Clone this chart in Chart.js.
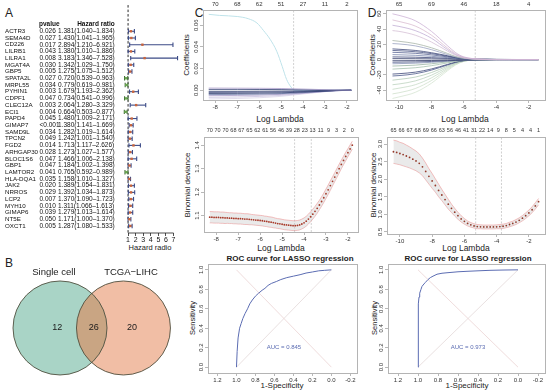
<!DOCTYPE html>
<html>
<head>
<meta charset="utf-8">
<title>LASSO figure</title>
<script src="https://cdn.jsdelivr.net/npm/chart.js@4.4.1/dist/chart.umd.min.js"></script>
<style>
  body { margin:0; width:550px; height:392px; position:relative; overflow:hidden; background:#fff;
         font-family:"Liberation Sans", Arial, sans-serif; color:#222; }
  canvas { position:absolute; }
  .t { position:absolute; white-space:nowrap; line-height:1; transform:translate(-50%,-50%); }
  .r { transform:translate(-50%,-50%) rotate(-90deg); }
  .lt { position:absolute; font-size:12px; line-height:1; transform:translate(-50%,-50%); }
</style>
</head>
<body>
<div class="lt" style="left:9px;top:13px">A</div>
<div class="lt" style="left:9px;top:263px">B</div>
<div class="lt" style="left:199px;top:13px">C</div>
<div class="lt" style="left:372px;top:13px">D</div>

<div class="t" style="left:150px;top:248px;font-size:7.5px">Hazard radio</div>
<div class="t r" style="left:187px;top:55px;font-size:8px">Coefficients</div>
<div class="t r" style="left:373px;top:55px;font-size:8px">Coefficients</div>
<div class="t" style="left:280px;top:119px;font-size:8.5px">Log Lambda</div>
<div class="t" style="left:465px;top:119px;font-size:8.5px">Log Lambda</div>
<div class="t r" style="left:188px;top:185px;font-size:8px">Binomial deviance</div>
<div class="t r" style="left:374px;top:185px;font-size:8px">Binomial deviance</div>
<div class="t" style="left:281px;top:248px;font-size:8.5px">Log Lambda</div>
<div class="t" style="left:466px;top:248px;font-size:8.5px">Log Lambda</div>
<div class="t" style="left:290px;top:259px;font-size:8px;font-weight:bold">ROC curve for LASSO regression</div>
<div class="t" style="left:468px;top:259px;font-size:8px;font-weight:bold">ROC curve for LASSO regression</div>
<div class="t r" style="left:193px;top:318px;font-size:7.5px">Sensitivity</div>
<div class="t r" style="left:375px;top:318px;font-size:7.5px">Sensitivity</div>
<div class="t" style="left:282px;top:386px;font-size:8px">1-Specificity</div>
<div class="t" style="left:467px;top:386px;font-size:8px">1-Specificity</div>

<script>
// ---- panel A: univariate cox ----
const genes = ['ACTR3','SEMA4D','CD226','LILRB1','LILRA1','MGAT4A','GBP5','SPATA2L','MRPL55','PYHIN1',
  'CDPF1','CLEC12A','ECI1','PAPD4','GIMAP7','SAMD9L','TPCN2','FGD2','ARHGAP30','BLOC1S6',
  'GBP1','LAMTOR2','HLA-DQA1','JAK2','NRROS','LCP2','MYH10','GIMAP6','NT5E','OXCT1'];
const pvals = ['0.026','0.027','0.017','0.043','0.008','0.030','0.005','0.027','0.034','0.003',
  '0.047','0.003','0.004','0.045','<0.001','0.034','0.049','0.014','0.028','0.047',
  '0.047','0.041','0.035','0.020','0.029','0.007','0.010','0.039','0.050','0.005'];
const hr = [1.381,1.430,2.894,1.380,3.183,1.342,1.275,0.720,0.779,1.679,
  0.734,2.064,0.664,1.480,1.380,1.282,1.242,1.713,1.273,1.466,
  1.184,0.765,1.158,1.389,1.392,1.370,1.311,1.279,1.171,1.287];
const hrLow = [1.040,1.041,1.210,1.010,1.346,1.029,1.075,0.539,0.619,1.193,
  0.541,1.280,0.503,1.009,1.141,1.019,1.001,1.117,1.027,1.006,
  1.002,0.592,1.010,1.054,1.034,1.090,1.066,1.013,1.000,1.080];
const hrHigh = [1.834,1.965,6.921,1.886,7.528,1.750,1.512,0.963,0.981,2.362,
  0.996,3.329,0.877,2.171,1.669,1.614,1.540,2.626,1.577,2.138,
  1.398,0.989,1.327,1.831,1.873,1.723,1.613,1.614,1.370,1.533];
const hrTicks = [1, 2, 3, 4, 5, 6, 7];

// ---- panel B: venn ----
const vennSets = ['Single cell', 'TCGA\u2212LIHC'];
const vennCounts = [12, 26, 20];

// ---- panel C ----
const coefTickC = [-8, -7, -6, -5, -4, -3, -2];
const coefTopC = ['70', '68', '62', '51', '27', '11', '2'];
const bigLamC = [-8.3, -7.8, -7, -6.5, -6.1, -5.8, -5.5, -5.2, -4.95, -4.75, -4.55, -4.4, -1.8];
const bigCoefC = [0.070, 0.069, 0.068, 0.066, 0.062, 0.055, 0.047, 0.036, 0.022, 0.010, 0.003, 0, 0];
const pathLamC = [-8.3, -7, -6, -5, -4, -3, -2.5, -1.8];
const pathsC = [
  [0.0020, 0.0019, 0.0018, 0.0016, 0.0011, 0.0005, 0.0002, 0],
  [0.0008, 0.0008, 0.0007, 0.0006, 0.0004, 0.0002, 0.0001, 0],
  [-0.0010, -0.0010, -0.0009, -0.0008, -0.0006, -0.0003, -0.0001, 0],
  [-0.0020, -0.0019, -0.0018, -0.0016, -0.0012, -0.0006, -0.0002, 0],
  [-0.0030, -0.0029, -0.0027, -0.0024, -0.0017, -0.0008, -0.0003, 0],
  [-0.0040, -0.0038, -0.0036, -0.0031, -0.0022, -0.0010, -0.0004, 0],
  [-0.0050, -0.0048, -0.0045, -0.0038, -0.0026, -0.0011, -0.0004, 0],
  [-0.0065, -0.0062, -0.0057, -0.0047, -0.0030, -0.0012, -0.0004, 0],
  [-0.0080, -0.0076, -0.0069, -0.0056, -0.0034, -0.0013, -0.0004, 0]
];
const pathColC = ['#a99cc9', '#2f3b6e', '#2f3b6e', '#3a467a', '#2f3b6e', '#6b7aa6', '#a99cc9', '#c8c0df', '#dcd6ea'];
const lamC = [-8.3,-8.2,-8.1,-8.0,-7.9,-7.8,-7.7,-7.6,-7.5,-7.4,-7.3,-7.2,-7.1,-7.0,-6.9,-6.8,-6.7,-6.6,-6.5,-6.4,
  -6.3,-6.2,-6.1,-6.0,-5.9,-5.8,-5.7,-5.6,-5.5,-5.4,-5.3,-5.2,-5.1,-5.0,-4.9,-4.8,-4.7,-4.6,-4.5,-4.4,
  -4.3,-4.2,-4.1,-4.0,-3.9,-3.8,-3.7,-3.6,-3.5,-3.4,-3.3,-3.2,-3.1,-3.0,-2.9,-2.8,-2.7,-2.6,-2.5,-2.4,
  -2.3,-2.2,-2.1,-2.0,-1.9,-1.8];
const devC = [1.093,1.093,1.092,1.092,1.092,1.091,1.091,1.090,1.090,1.089,
  1.089,1.088,1.088,1.087,1.087,1.086,1.085,1.085,1.084,1.083,
  1.082,1.081,1.080,1.079,1.078,1.076,1.075,1.073,1.072,1.070,
  1.068,1.066,1.065,1.063,1.061,1.060,1.059,1.058,1.057,1.057,
  1.058,1.060,1.064,1.069,1.076,1.085,1.095,1.106,1.118,1.131,
  1.145,1.160,1.176,1.193,1.210,1.228,1.246,1.264,1.282,1.300,
  1.318,1.335,1.352,1.368,1.384,1.400];
const seC = [0.024,0.024,0.024,0.024,0.024,0.024,0.024,0.024,0.023,0.023,
  0.023,0.023,0.023,0.023,0.023,0.023,0.023,0.023,0.023,0.022,
  0.022,0.022,0.022,0.022,0.022,0.022,0.022,0.022,0.022,0.022,
  0.021,0.021,0.021,0.021,0.021,0.021,0.021,0.021,0.021,0.021,
  0.021,0.021,0.021,0.021,0.021,0.021,0.021,0.021,0.021,0.021,
  0.020,0.020,0.020,0.020,0.020,0.020,0.019,0.019,0.019,0.019,
  0.018,0.018,0.018,0.017,0.017,0.017];
const devTopPosC = [-8.3,-7.94,-7.58,-7.22,-6.86,-6.49,-6.13,-5.77,-5.41,-5.05,-4.69,-4.33,-3.97,-3.61,-3.24,-2.88,-2.52,-2.16,-1.8];
const devTopC = ['70','70','70','68','67','65','62','61','56','46','39','28','23','13','11','9','3','2','0'];
const devTickC = [1.1, 1.2, 1.3, 1.4];
const devTickLabC = ['1.1', '1.2', '1.3', '1.4'];
const cutLamC = [-4.43, -3.67];
const rocSpecC = [1, 0.993, 0.983, 0.967, 0.95, 0.933, 0.91, 0.883, 0.86, 0.833, 0.8, 0.767, 0.73, 0.70,
  0.667, 0.633, 0.58, 0.533, 0.47, 0.40, 0.33, 0.267, 0.2, 0.133, 0.07, 0];
const rocSensC = [0, 0.16, 0.30, 0.40, 0.45, 0.50, 0.55, 0.60, 0.65, 0.69, 0.73, 0.76, 0.79, 0.81,
  0.84, 0.86, 0.88, 0.90, 0.92, 0.935, 0.95, 0.967, 0.978, 0.99, 0.995, 1];

// ---- panel D ----
const coefTickD = [-10, -8, -6, -4, -2];
const coefTopD = ['65', '69', '46', '18', '4'];
const pathLamD = [-10.4, -10, -9, -8, -7, -6.5, -6, -5, -4, -3, -1.4];
const pathsD = [
  [60, 58, 51, 37, 18, 9, 3.5, 0.6, 0, 0, 0],
  [52, 50, 44, 32, 15, 7.5, 3, 0.5, 0, 0, 0],
  [45, 43.5, 38, 28, 13, 6.5, 2.6, 0.4, 0, 0, 0],
  [38, 37, 32, 23, 11, 5.5, 2.2, 0.4, 0, 0, 0],
  [25, 24, 21, 15.5, 8, 4, 1.8, 0.4, 0.1, 0, 0],
  [21, 20.5, 18, 13, 6.5, 3.5, 1.5, 0.3, 0, 0, 0],
  [14, 13.5, 12, 9, 5, 2.8, 1.3, 0.4, 0.1, 0, 0],
  [12, 11.6, 10.3, 7.8, 4.3, 2.4, 1.1, 0.3, 0.1, 0, 0],
  [9.5, 9.2, 8.2, 6.2, 3.5, 2, 1, 0.3, 0.1, 0, 0],
  [6.5, 6.3, 5.6, 4.3, 2.5, 1.5, 0.8, 0.3, 0.1, 0, 0],
  [3.5, 3.4, 3.1, 2.5, 1.6, 1.1, 0.7, 0.4, 0.25, 0.12, 0],
  [1.2, 1.2, 1.1, 0.9, 0.7, 0.55, 0.45, 0.3, 0.2, 0.1, 0.02],
  [-1.5, -1.5, -1.4, -1.2, -0.9, -0.7, -0.55, -0.35, -0.2, -0.1, -0.02],
  [-3.5, -3.4, -3.1, -2.5, -1.6, -1.1, -0.7, -0.3, -0.1, 0, 0],
  [-5.5, -5.3, -4.7, -3.6, -2.1, -1.3, -0.7, -0.2, 0, 0, 0],
  [-8.5, -8.2, -7.3, -5.5, -3, -1.7, -0.8, -0.2, 0, 0, 0],
  [-12.5, -12, -10.7, -8, -4.3, -2.3, -1, -0.2, 0, 0, 0],
  [-19, -18.5, -16.5, -12.3, -6.3, -3.3, -1.3, -0.2, 0, 0, 0],
  [-21.5, -21, -18.6, -13.8, -7, -3.6, -1.4, -0.2, 0, 0, 0],
  [-27, -26, -23, -17, -8.5, -4.3, -1.6, -0.2, 0, 0, 0],
  [-33, -32, -28, -20.5, -10, -5, -1.8, -0.2, 0, 0, 0],
  [-39, -37.5, -33, -24, -11.5, -5.6, -2, -0.2, 0, 0, 0],
  [-45, -43.5, -38, -27.5, -13, -6.3, -2.2, -0.2, 0, 0, 0],
  [-51, -49, -43, -31, -14.5, -7, -2.4, -0.2, 0, 0, 0]
];
const pathColD = ['#cdb3d6', '#d9bcd0', '#c2aed4', '#d6c0d6', '#a8b5a8', '#9aa3c0', '#3d4878', '#4a5585',
  '#5c6794', '#7a86ad', '#3d4878', '#2e3866', '#2e3866', '#4a5585', '#8a96b8', '#9ab5a5', '#a6c2ae',
  '#3d4878', '#4e5a8a', '#b2cab6', '#bdd3bf', '#c6dac6', '#cfe0cc', '#d6e4d2'];
const lamD = [-10.4,-10.2,-10.0,-9.8,-9.6,-9.4,-9.2,-9.0,-8.8,-8.6,-8.4,-8.2,-8.0,-7.8,-7.6,-7.4,-7.2,-7.0,-6.8,-6.6,
  -6.4,-6.2,-6.0,-5.8,-5.6,-5.4,-5.2,-5.0,-4.8,-4.6,-4.4,-4.2,-4.0,-3.8,-3.6,-3.4,-3.2,-3.0,-2.8,-2.6,
  -2.4,-2.2,-2.0,-1.8,-1.6,-1.4];
const devD = [2.78,2.76,2.73,2.70,2.66,2.62,2.57,2.52,2.45,2.35,
  2.22,2.08,1.95,1.82,1.68,1.55,1.42,1.29,1.17,1.06,
  0.96,0.87,0.80,0.74,0.70,0.67,0.65,0.645,0.64,0.64,
  0.64,0.64,0.645,0.65,0.66,0.68,0.71,0.74,0.78,0.83,
  0.89,0.96,1.04,1.13,1.24,1.36];
const seD = [0.33,0.33,0.32,0.32,0.31,0.30,0.29,0.28,0.27,0.25,
  0.24,0.22,0.21,0.19,0.18,0.16,0.15,0.14,0.12,0.11,
  0.10,0.09,0.08,0.07,0.065,0.06,0.06,0.055,0.055,0.055,
  0.055,0.055,0.055,0.06,0.06,0.06,0.065,0.065,0.07,0.07,
  0.075,0.08,0.08,0.085,0.09,0.09];
const devTopPosD = [-10.4,-9.9,-9.4,-8.9,-8.4,-7.9,-7.4,-6.9,-6.4,-5.9,-5.4,-4.9,-4.4,-3.9,-3.4,-2.9,-2.4,-1.9,-1.4];
const devTopD = ['65','66','67','68','69','66','63','56','46','41','31','22','14','9','8','5','4','4','1'];
const devTickD = [0.5, 1.0, 1.5, 2.0, 2.5, 3.0];
const devTickLabD = ['0.5', '1.0', '1.5', '2.0', '2.5', '3.0'];
const cutLamD = [-5.3, -3.7];
const rocSpecD = [1, 1, 0.997, 0.993, 0.99, 0.983, 0.97, 0.96, 0.94, 0.927, 0.9, 0.877, 0.85, 0.81, 0.76,
  0.71, 0.6, 0.51, 0.4, 0.28, 0.15, 0];
const rocSensD = [0, 0.42, 0.55, 0.65, 0.72, 0.76, 0.80, 0.83, 0.855, 0.87, 0.90, 0.92, 0.935, 0.955, 0.965,
  0.97, 0.98, 0.985, 0.99, 0.995, 0.998, 1];

const rocTicks = [1.2, 1.0, 0.8, 0.6, 0.4, 0.2, 0.0, -0.2];
const rocTickLab = ['1.2', '1.0', '0.8', '0.6', '0.4', '0.2', '0.0', '-0.2'];
const sensTicks = [0, 0.2, 0.4, 0.6, 0.8, 1.0];
const sensTickLab = ['0.0', '0.2', '0.4', '0.6', '0.8', '1.0'];

// ---- shared setup ----
Chart.defaults.font.family = '"Liberation Sans", Arial, sans-serif';
Chart.defaults.font.size = 6;
Chart.defaults.color = '#333';
Chart.defaults.animation = false;
Chart.defaults.events = [];
Chart.defaults.plugins.legend.display = false;
Chart.defaults.plugins.tooltip.enabled = false;

const tickGrid = { drawOnChartArea: false, tickLength: 3, color: '#999', lineWidth: 0.7 };

function canvasAt(g) {
  const c = document.createElement('canvas');
  c.width = g.w; c.height = g.h;
  c.style.left = g.x + 'px'; c.style.top = g.y + 'px';
  c.style.width = g.w + 'px'; c.style.height = g.h + 'px';
  document.body.appendChild(c);
  return c;
}

// grey frame round the plot region, like R's box()
const boxPlugin = {
  id: 'rbox',
  afterDatasetsDraw(chart) {
    const a = chart.chartArea, ctx = chart.ctx;
    ctx.save();
    ctx.strokeStyle = '#b4b4b4';
    ctx.lineWidth = 1;
    ctx.strokeRect(Math.round(a.left) + 0.5, Math.round(a.top) + 0.5,
      Math.round(a.right - a.left), Math.round(a.bottom - a.top));
    ctx.restore();
  }
};

// y tick labels turned 90 degrees (chart.js does not rotate y labels)
const yRotPlugin = {
  id: 'yrot',
  afterDraw(chart, args, o) {
    const s = chart.scales.y, ctx = chart.ctx;
    if (!o.labels) return;
    ctx.save();
    ctx.font = '6px "Liberation Sans", Arial';
    ctx.fillStyle = '#333';
    ctx.textAlign = 'center';
    ctx.textBaseline = 'bottom';
    s.ticks.forEach((t, i) => {
      ctx.save();
      ctx.translate(chart.chartArea.left - 4, s.getPixelForValue(t.value));
      ctx.rotate(-Math.PI / 2);
      ctx.fillText(o.labels[i], 0, 0);
      ctx.restore();
    });
    ctx.restore();
  }
};

function scalesFor(g, x, y, top) {
  const s = {
    x: {
      type: 'linear', min: x.min, max: x.max, reverse: !!x.reverse,
      afterBuildTicks: a => { a.ticks = x.ticks.map(v => ({ value: v })); },
      afterFit: a => { a.height = g.y + g.h - g.b; },
      ticks: { autoSkip: false, maxRotation: 0, padding: 1, callback: (v, i) => x.labels[i] },
      grid: tickGrid, border: { display: false }
    },
    y: {
      type: 'linear', min: y.min, max: y.max,
      afterBuildTicks: a => { a.ticks = y.ticks.map(v => ({ value: v })); },
      afterFit: a => { a.width = g.l - g.x; },
      ticks: { display: false },
      grid: tickGrid, border: { display: false }
    }
  };
  if (top) {
    s.x2 = {
      type: 'linear', position: 'top', min: x.min, max: x.max,
      afterBuildTicks: a => { a.ticks = top.pos.map(v => ({ value: v })); },
      afterFit: a => { a.height = g.t - g.y; },
      ticks: { autoSkip: false, maxRotation: 0, padding: top.pad, font: { size: top.size },
        callback: (v, i) => top.labels[i] },
      grid: { display: false, drawTicks: false }, border: { display: false }
    };
  }
  return s;
}

function rChart(g, datasets, x, y, top, extraPlugins) {
  return new Chart(canvasAt(g), {
    type: 'line',
    data: { datasets },
    options: {
      responsive: false,
      layout: { padding: { left: 0, right: g.x + g.w - g.r, top: top ? 0 : g.t - g.y, bottom: 0 } },
      scales: scalesFor(g, x, y, top),
      plugins: { yrot: { labels: y.labels } }
    },
    plugins: [boxPlugin, yRotPlugin].concat(extraPlugins || [])
  });
}

function path(xs, ys, color, width) {
  return { data: xs.map((x, i) => ({ x, y: ys[i] })), borderColor: color, borderWidth: width || 0.8,
    pointRadius: 0, cubicInterpolationMode: 'monotone', fill: false };
}
function vline(x, y0, y1) {
  return { data: [{ x, y: y0 }, { x, y: y1 }], borderColor: '#c4c4c4', borderWidth: 0.8,
    borderDash: [2, 1.5], pointRadius: 0 };
}
function devSets(lam, dev, se, cuts, y0, y1, dot) {
  return [
    { data: lam.map((x, i) => ({ x, y: dev[i] })), showLine: false, pointRadius: 0.9,
      pointBackgroundColor: dot, pointBorderWidth: 0 },
    { data: lam.map((x, i) => ({ x, y: dev[i] + se[i] })), borderColor: 'rgba(236,150,150,0.6)', borderWidth: 1,
      pointRadius: 0, fill: '+1', backgroundColor: 'rgba(190,190,190,0.32)' },
    { data: lam.map((x, i) => ({ x, y: dev[i] - se[i] })), borderColor: 'rgba(236,150,150,0.6)', borderWidth: 1,
      pointRadius: 0, fill: false }
  ].concat(cuts.map(c => vline(c, y0, y1)));
}
function rocSets(spec, sens) {
  return [
    { data: spec.map((x, i) => ({ x, y: sens[i] })), borderColor: '#5b6cb2', borderWidth: 1, pointRadius: 0 },
    { data: [{ x: 1, y: 1 }, { x: 0, y: 0 }], borderColor: '#ebd3d3', borderWidth: 0.8, pointRadius: 0 },
    { data: [{ x: 1, y: 0 }, { x: 0, y: 1 }], borderColor: '#e3d8d8', borderWidth: 0.8, pointRadius: 0 }
  ];
}
function aucLabel(text) {
  return {
    id: 'auc',
    afterDatasetsDraw(chart) {
      const ctx = chart.ctx;
      ctx.save();
      ctx.font = '6px "Liberation Sans", Arial';
      ctx.fillStyle = '#5b6cb2';
      ctx.textAlign = 'center';
      ctx.textBaseline = 'middle';
      ctx.fillText(text, chart.scales.x.getPixelForValue(0.5), chart.scales.y.getPixelForValue(0.2));
      ctx.restore();
    }
  };
}

// ---- A: forest plot ----
const fY = { min: -3.9, max: 30.05 };
const fmt = v => v.toFixed(3);
const forestText = {
  id: 'ftext',
  afterDraw(chart) {
    const ctx = chart.ctx, y = chart.scales.y;
    ctx.save();
    ctx.fillStyle = '#111';
    ctx.textBaseline = 'middle';
    ctx.textAlign = 'left';
    const hrText = genes.map((g, i) => fmt(hr[i]) + '(' + fmt(hrLow[i]) + '\u2013' + fmt(hrHigh[i]) + ')');
    ctx.font = '6.5px "Liberation Sans", Arial';
    const hrRight = 58 + ctx.measureText(hrText[0]).width;
    genes.forEach((g, i) => {
      const py = y.getPixelForValue(i);
      ctx.font = '6.2px "Liberation Sans", Arial';
      ctx.fillText(g, 5, py);
      ctx.font = '6.5px "Liberation Sans", Arial';
      ctx.fillText(pvals[i], 39.5, py);
      ctx.fillText(hrText[i], 58, py);
    });
    ctx.font = 'bold 6.5px "Liberation Sans", Arial';
    const hy = y.getPixelForValue(-1);
    ctx.fillText('pvalue', 39, hy);
    ctx.textAlign = 'right';
    ctx.fillText('Hazard ratio', hrRight, hy);
    ctx.restore();
  }
};
const ciSets = genes.map((g, i) => {
  const col = hr[i] < 1 ? '#3f6b35' : '#3b4a86';
  return { data: [{ x: hrLow[i], y: i }, { x: hrHigh[i], y: i }], borderColor: col, borderWidth: 1.1,
    pointStyle: 'line', pointRotation: 90, pointRadius: 2.2, pointBorderWidth: 1.1, pointBorderColor: col };
});
new Chart(canvasAt({ x: 0, y: 0, w: 200, h: 258 }), {
  type: 'line',
  data: {
    datasets: [
      { data: genes.map((g, i) => ({ x: hr[i], y: i })), showLine: false, pointStyle: 'rect', pointRadius: 1.7,
        pointBackgroundColor: hr.map(v => v < 1 ? '#6aa84f' : '#c8643c'), pointBorderWidth: 0 }
    ].concat(ciSets, [
      { data: [{ x: 1, y: fY.min }, { x: 1, y: fY.max }], borderColor: '#111', borderWidth: 0.9,
        borderDash: [2.5, 2], pointRadius: 0 },
      { data: [{ x: 1, y: fY.max }, { x: 7, y: fY.max }], borderColor: '#222', borderWidth: 0.8,
        pointRadius: 0, clip: false }
    ])
  },
  options: {
    responsive: false,
    layout: { padding: { left: 122, right: 20, top: 5, bottom: 0 } },
    scales: {
      x: { type: 'linear', min: 0.2, max: 7.85,
        afterBuildTicks: a => { a.ticks = hrTicks.map(v => ({ value: v })); },
        afterFit: a => { a.height = 25; },
        ticks: { autoSkip: false, maxRotation: 0, padding: 0, font: { size: 7 }, color: '#111',
          callback: (v, i) => String(hrTicks[i]) },
        grid: { drawOnChartArea: false, tickLength: 3, color: '#222', lineWidth: 0.8 },
        border: { display: false } },
      y: { type: 'linear', display: false, min: fY.min, max: fY.max, reverse: true }
    }
  },
  plugins: [forestText]
});

// ---- B: venn ----
const venn = {
  id: 'venn',
  afterDatasetsDraw(chart) {
    const ctx = chart.ctx;
    const a = chart.getDatasetMeta(0).data[0], b = chart.getDatasetMeta(1).data[0];
    const r = a.options.radius, sx = chart.scales.x, sy = chart.scales.y;
    ctx.save();
    ctx.beginPath(); ctx.arc(a.x, a.y, r, 0, Math.PI * 2); ctx.clip();
    ctx.beginPath(); ctx.arc(b.x, b.y, r, 0, Math.PI * 2);
    ctx.fillStyle = '#c9a583'; ctx.fill();
    ctx.restore();
    ctx.save();
    ctx.strokeStyle = '#50503f'; ctx.lineWidth = 0.9;
    [a, b].forEach(p => { ctx.beginPath(); ctx.arc(p.x, p.y, r, 0, Math.PI * 2); ctx.stroke(); });
    ctx.fillStyle = '#1a1a1a'; ctx.textAlign = 'center'; ctx.textBaseline = 'middle';
    ctx.font = '9.5px "Liberation Sans", Arial';
    ctx.fillText(vennSets[0], sx.getPixelForValue(-0.13), sy.getPixelForValue(1.19));
    ctx.fillText(vennSets[1], sx.getPixelForValue(1.51), sy.getPixelForValue(1.19));
    ctx.font = '9px "Liberation Sans", Arial';
    [-0.06, 0.72, 1.53].forEach((u, i) => ctx.fillText(String(vennCounts[i]), sx.getPixelForValue(u), sy.getPixelForValue(0)));
    ctx.restore();
  }
};
const unitR = c => c.chart.scales.x.getPixelForValue(1) - c.chart.scales.x.getPixelForValue(0);
new Chart(canvasAt({ x: 0, y: 262, w: 200, h: 130 }), {
  type: 'scatter',
  data: {
    datasets: [
      { data: [{ x: 0, y: 0 }], pointRadius: unitR, pointBackgroundColor: '#a9d4c6', pointBorderWidth: 0 },
      { data: [{ x: 1.35, y: 0 }], pointRadius: unitR, pointBackgroundColor: '#f1bea5', pointBorderWidth: 0 }
    ]
  },
  options: {
    responsive: false,
    layout: { padding: 0 },
    scales: {
      x: { type: 'linear', display: false, min: -1.277, max: 2.979 },
      y: { type: 'linear', display: false, min: -1.362, max: 1.404 }
    }
  },
  plugins: [venn]
});

// ---- C / D: coefficient paths ----
rChart({ x: 170, y: 0, w: 195, h: 128, l: 203, t: 10, r: 357, b: 100 },
  pathsC.map((p, k) => path(pathLamC, p, pathColC[k])).concat([
    path(bigLamC, bigCoefC, '#bfe3ea', 1),
    vline(cutLamC[0], -0.009, 0.074)
  ]),
  { min: -8.56, max: -1.54, ticks: coefTickC, labels: coefTickC.map(String) },
  { min: -0.009, max: 0.074, ticks: [0, 0.02, 0.04, 0.06], labels: ['0.00', '0.02', '0.04', '0.06'] },
  { pos: coefTickC, labels: coefTopC, pad: 2, size: 6 });

rChart({ x: 365, y: 0, w: 185, h: 128, l: 386, t: 10, r: 545, b: 100 },
  pathsD.map((p, k) => path(pathLamD, p, pathColD[k])).concat([vline(cutLamD[0], -53, 65)]),
  { min: -10.8, max: -1.0, ticks: coefTickD, labels: coefTickD.map(String) },
  { min: -53, max: 65, ticks: [-40, -20, 0, 20, 40, 60], labels: ['-40', '-20', '0', '20', '40', '60'] },
  { pos: coefTickD, labels: coefTopD, pad: 2, size: 6 });

// ---- C / D: cross-validation deviance ----
rChart({ x: 170, y: 128, w: 195, h: 127, l: 204, t: 137, r: 358, b: 232 },
  devSets(lamC, devC, seC, cutLamC, 1.03, 1.435, '#a83a2a'),
  { min: -8.56, max: -1.54, ticks: coefTickC, labels: coefTickC.map(String) },
  { min: 1.03, max: 1.435, ticks: devTickC, labels: devTickLabC },
  { pos: devTopPosC, labels: devTopC, pad: 3, size: 5.5 });

rChart({ x: 365, y: 128, w: 185, h: 127, l: 387, t: 137, r: 545, b: 234 },
  devSets(lamD, devD, seD, cutLamD, 0.44, 3.2, '#94392a'),
  { min: -10.8, max: -1.0, ticks: coefTickD, labels: coefTickD.map(String) },
  { min: 0.44, max: 3.2, ticks: devTickD, labels: devTickLabD },
  { pos: devTopPosD, labels: devTopD, pad: 3, size: 5.5 });

// ---- C / D: ROC ----
rChart({ x: 180, y: 255, w: 185, h: 137, l: 208, t: 264, r: 357, b: 373 },
  rocSets(rocSpecC, rocSensC),
  { min: -0.27, max: 1.3, reverse: true, ticks: rocTicks, labels: rocTickLab },
  { min: -0.06, max: 1.06, ticks: sensTicks, labels: sensTickLab },
  null, [aucLabel('AUC = 0.845')]);

rChart({ x: 365, y: 255, w: 185, h: 137, l: 388, t: 264, r: 545, b: 373 },
  rocSets(rocSpecD, rocSensD),
  { min: -0.27, max: 1.3, reverse: true, ticks: rocTicks, labels: rocTickLab },
  { min: -0.06, max: 1.06, ticks: sensTicks, labels: sensTickLab },
  null, [aucLabel('AUC = 0.973')]);
</script>
</body>
</html>
